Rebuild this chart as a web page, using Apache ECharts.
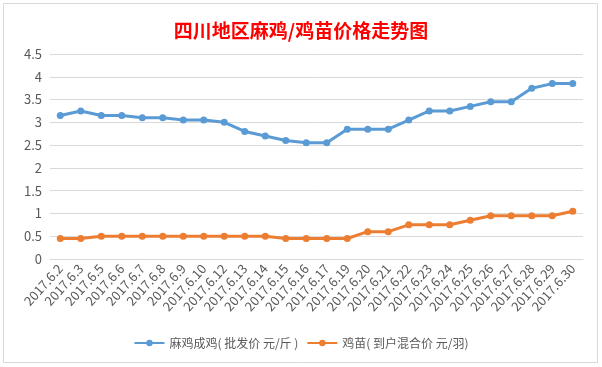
<!DOCTYPE html>
<html><head><meta charset="utf-8">
<script src="https://cdn.jsdelivr.net/npm/echarts@6/dist/echarts.min.js"></script>
<style>html,body{margin:0;padding:0;background:#fff}#c{width:602px;height:367px}</style>
</head><body><div id="c"></div>
<script>
const categories = ['2017.6.2','2017.6.3','2017.6.5','2017.6.6','2017.6.7','2017.6.8','2017.6.9','2017.6.10','2017.6.12','2017.6.13','2017.6.14','2017.6.15','2017.6.16','2017.6.17','2017.6.19','2017.6.20','2017.6.21','2017.6.22','2017.6.23','2017.6.24','2017.6.25','2017.6.26','2017.6.27','2017.6.28','2017.6.29','2017.6.30'];
const henPrice = [3.15,3.25,3.15,3.15,3.1,3.1,3.05,3.05,3.0,2.8,2.7,2.6,2.55,2.55,2.85,2.85,2.85,3.05,3.25,3.25,3.35,3.45,3.45,3.75,3.85,3.85];
const chickPrice = [0.45,0.45,0.5,0.5,0.5,0.5,0.5,0.5,0.5,0.5,0.5,0.45,0.45,0.45,0.45,0.6,0.6,0.75,0.75,0.75,0.85,0.95,0.95,0.95,0.95,1.05];
const seriesNames = ['麻鸡成鸡( 批发价 元/斤 )','鸡苗( 到户混合价 元/羽)'];
const titleText = '四川地区麻鸡/鸡苗价格走势图';

const chart = echarts.init(document.getElementById('c'));
const font = '"Noto Sans CJK SC", "Noto Sans", sans-serif';
chart.setOption({
  backgroundColor: '#fff',
  animation: false,
  title: {
    text: titleText, left: 'center', top: 16,
    textStyle: {color: '#FF0000', fontSize: 19, fontWeight: 'bold', fontFamily: font}
  },
  legend: {
    bottom: 13, left: 'center', itemWidth: 30, itemHeight: 8, itemGap: 8,
    textStyle: {color: '#595959', fontSize: 12, fontFamily: font},
    data: seriesNames
  },
  grid: {left: 50, right: 19, top: 54, bottom: 108},
  xAxis: {
    type: 'category', data: categories, boundaryGap: true,
    axisLine: {lineStyle: {color: '#d9d9d9'}},
    axisTick: {show: false},
    axisLabel: {rotate: 48, interval: 0, color: '#595959', fontSize: 13, fontFamily: font, margin: 7}
  },
  yAxis: {
    type: 'value', min: 0, max: 4.5, interval: 0.5,
    axisLine: {show: false}, axisTick: {show: false},
    splitLine: {lineStyle: {color: '#d9d9d9'}},
    axisLabel: {color: '#595959', fontSize: 13, fontFamily: font, margin: 8}
  },
  series: [
    {name: seriesNames[0], type: 'line', data: henPrice, symbol: 'circle', symbolSize: 7,
     lineStyle: {width: 3, color: '#5B9BD5'}, itemStyle: {color: '#5B9BD5'}},
    {name: seriesNames[1], type: 'line', data: chickPrice, symbol: 'circle', symbolSize: 7,
     lineStyle: {width: 3, color: '#ED7D31'}, itemStyle: {color: '#ED7D31'}}
  ],
  graphic: [
    {type: 'rect', shape: {x: 3.5, y: 3.5, width: 594, height: 359}, style: {fill: 'none', stroke: '#d9d9d9', lineWidth: 1}, silent: true}
  ]
});
</script></body></html>
